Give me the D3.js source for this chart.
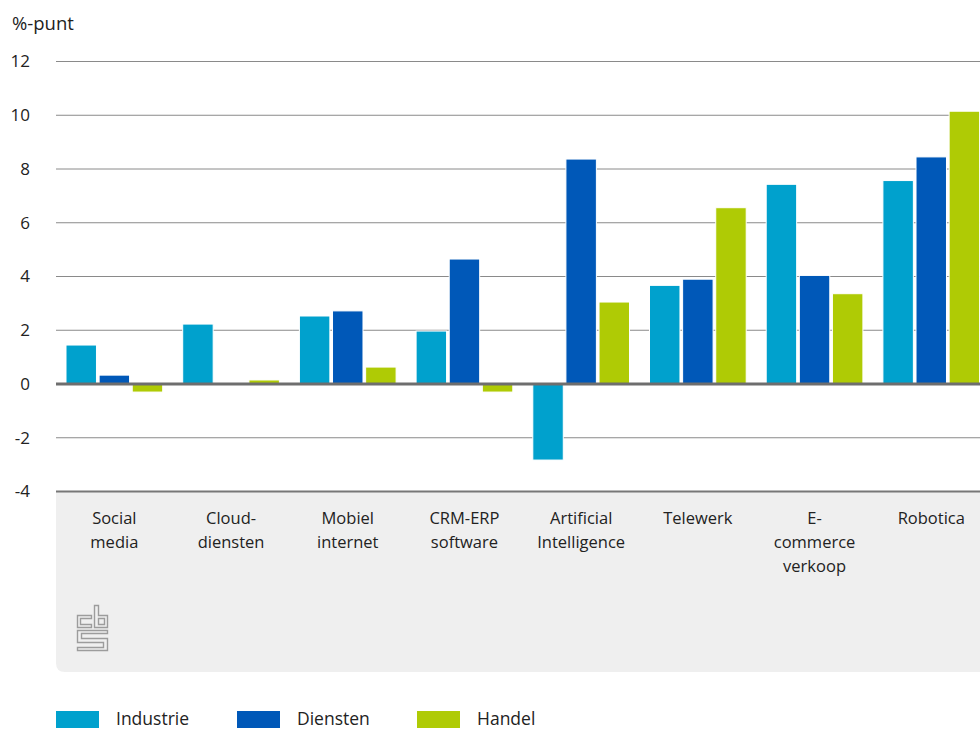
<!DOCTYPE html>
<html>
<head>
<meta charset="utf-8">
<script src="https://cdn.jsdelivr.net/npm/d3@7"></script>
<style>
  html, body { margin: 0; padding: 0; background: #fff; overflow: hidden; }
  svg { display: block; font-family: "Open Sans", "Noto Sans", sans-serif; }
</style>
</head>
<body>
<svg id="chart" width="980" height="731"></svg>
<script>
// Categories (label lines) and the three sector series, in %-point change
const categories = [
  ["Social", "media"],
  ["Cloud-", "diensten"],
  ["Mobiel", "internet"],
  ["CRM-ERP", "software"],
  ["Artificial", "Intelligence"],
  ["Telewerk"],
  ["E-", "commerce", "verkoop"],
  ["Robotica"]
];
const seriesNames = ["Industrie", "Diensten", "Handel"];
const industrie = [1.45, 2.23, 2.53, 1.97, -2.83, 3.67, 7.43, 7.57];
const diensten  = [0.33, 0.0, 2.72, 4.65, 8.37, 3.9, 4.04, 8.45];
const handel    = [-0.3, 0.15, 0.63, -0.3, 3.05, 6.56, 3.36, 10.15];
const yTicks = [-4, -2, 0, 2, 4, 6, 8, 10, 12];
const colors = ["#00a1cd", "#0058b8", "#afcb05"];

const values = [industrie, diensten, handel];
const catKeys = categories.map(c => c.join(" "));

const svg = d3.select("#chart");
const left = 56, bandW = 116.7;
const right = left + bandW * categories.length;

const x0 = d3.scaleBand().domain(catKeys).range([left, right]).padding(0);
const x1 = d3.scaleBand().domain(seriesNames).range([10, bandW - 10]).paddingInner(0.08);
const y = d3.scaleLinear().domain([-4, 12]).range([491.5, 61.5]);

// Grey panel holding the category labels
const panelTop = y(-4), panelBottom = 672, r = 9;
svg.append("path")
  .attr("d", `M${left},${panelTop} H${right + 20} V${panelBottom} H${left + r} Q${left},${panelBottom} ${left},${panelBottom - r} Z`)
  .attr("fill", "#efefef");

// Horizontal gridlines
svg.append("g").selectAll("line")
  .data(yTicks.filter(t => t !== 0))
  .join("line")
  .attr("x1", left).attr("x2", right + 20)
  .attr("y1", d => y(d)).attr("y2", d => y(d))
  .attr("stroke", d => d === -4 ? "#777" : "#8a8a8a")
  .attr("stroke-width", d => d === -4 ? 2 : 1);

// Y tick labels
svg.append("g").selectAll("text")
  .data(yTicks)
  .join("text")
  .attr("x", 30).attr("y", d => y(d))
  .attr("dy", "0.35em")
  .attr("text-anchor", "end")
  .attr("font-size", 17)
  .attr("fill", "#222")
  .text(d => d);

svg.append("text")
  .attr("x", 12).attr("y", 30)
  .attr("font-size", 18.5)
  .attr("fill", "#222")
  .text("%-punt");

// Bars
const groups = svg.append("g").selectAll("g")
  .data(catKeys)
  .join("g")
  .attr("transform", d => `translate(${x0(d)},0)`);

groups.selectAll("rect")
  .data((d, i) => seriesNames.map((s, j) => ({ s, v: values[j][i], c: colors[j] })))
  .join("rect")
  .filter(d => d.v !== 0)
  .attr("x", d => x1(d.s))
  .attr("width", x1.bandwidth())
  .attr("y", d => y(Math.max(0, d.v)))
  .attr("height", d => Math.abs(y(d.v) - y(0)))
  .attr("fill", d => d.c)
  .attr("stroke", "#fff")
  .attr("stroke-width", 1);

// Zero line
svg.append("line")
  .attr("x1", left).attr("x2", right + 20)
  .attr("y1", y(0)).attr("y2", y(0))
  .attr("stroke", "#6e6e6e")
  .attr("stroke-width", 3);

// Category labels
const labels = svg.append("g").selectAll("text")
  .data(categories)
  .join("text")
  .attr("x", (d, i) => x0(catKeys[i]) + bandW / 2)
  .attr("y", 524)
  .attr("text-anchor", "middle")
  .attr("font-size", 16.5)
  .attr("fill", "#222");
labels.selectAll("tspan")
  .data(d => d)
  .join("tspan")
  .attr("x", function () { return d3.select(this.parentNode).attr("x"); })
  .attr("dy", (d, i) => i === 0 ? 0 : 24)
  .text(d => d);

// cbs logo mark
const logo = svg.append("g")
  .attr("transform", "translate(77.5,605.5)")
  .attr("fill", "none")
  .attr("stroke", "#9c9c9c")
  .attr("stroke-width", 1.4);
logo.append("path").attr("d", "M0,10 H14 V13 H3 V19 H14 V22 H0 Z");
logo.append("path").attr("d", "M17,0 H21 V10 H30 V22 H17 Z");
logo.append("path").attr("d", "M21,13 H27 V19 H21 Z");
logo.append("path").attr("d", "M0,25 H30 V28 H4 V33 H30 V45 H0 V42 H26 V37 H0 Z");

// Legend
const legendX = [56, 237, 417];
const legend = svg.append("g").selectAll("g")
  .data(seriesNames)
  .join("g")
  .attr("transform", (d, i) => `translate(${legendX[i]},711)`);
legend.append("rect")
  .attr("width", 43).attr("height", 17)
  .attr("fill", (d, i) => colors[i]);
legend.append("text")
  .attr("x", 60).attr("y", 14)
  .attr("font-size", 17.5)
  .attr("fill", "#222")
  .text(d => d);
</script>
</body>
</html>
